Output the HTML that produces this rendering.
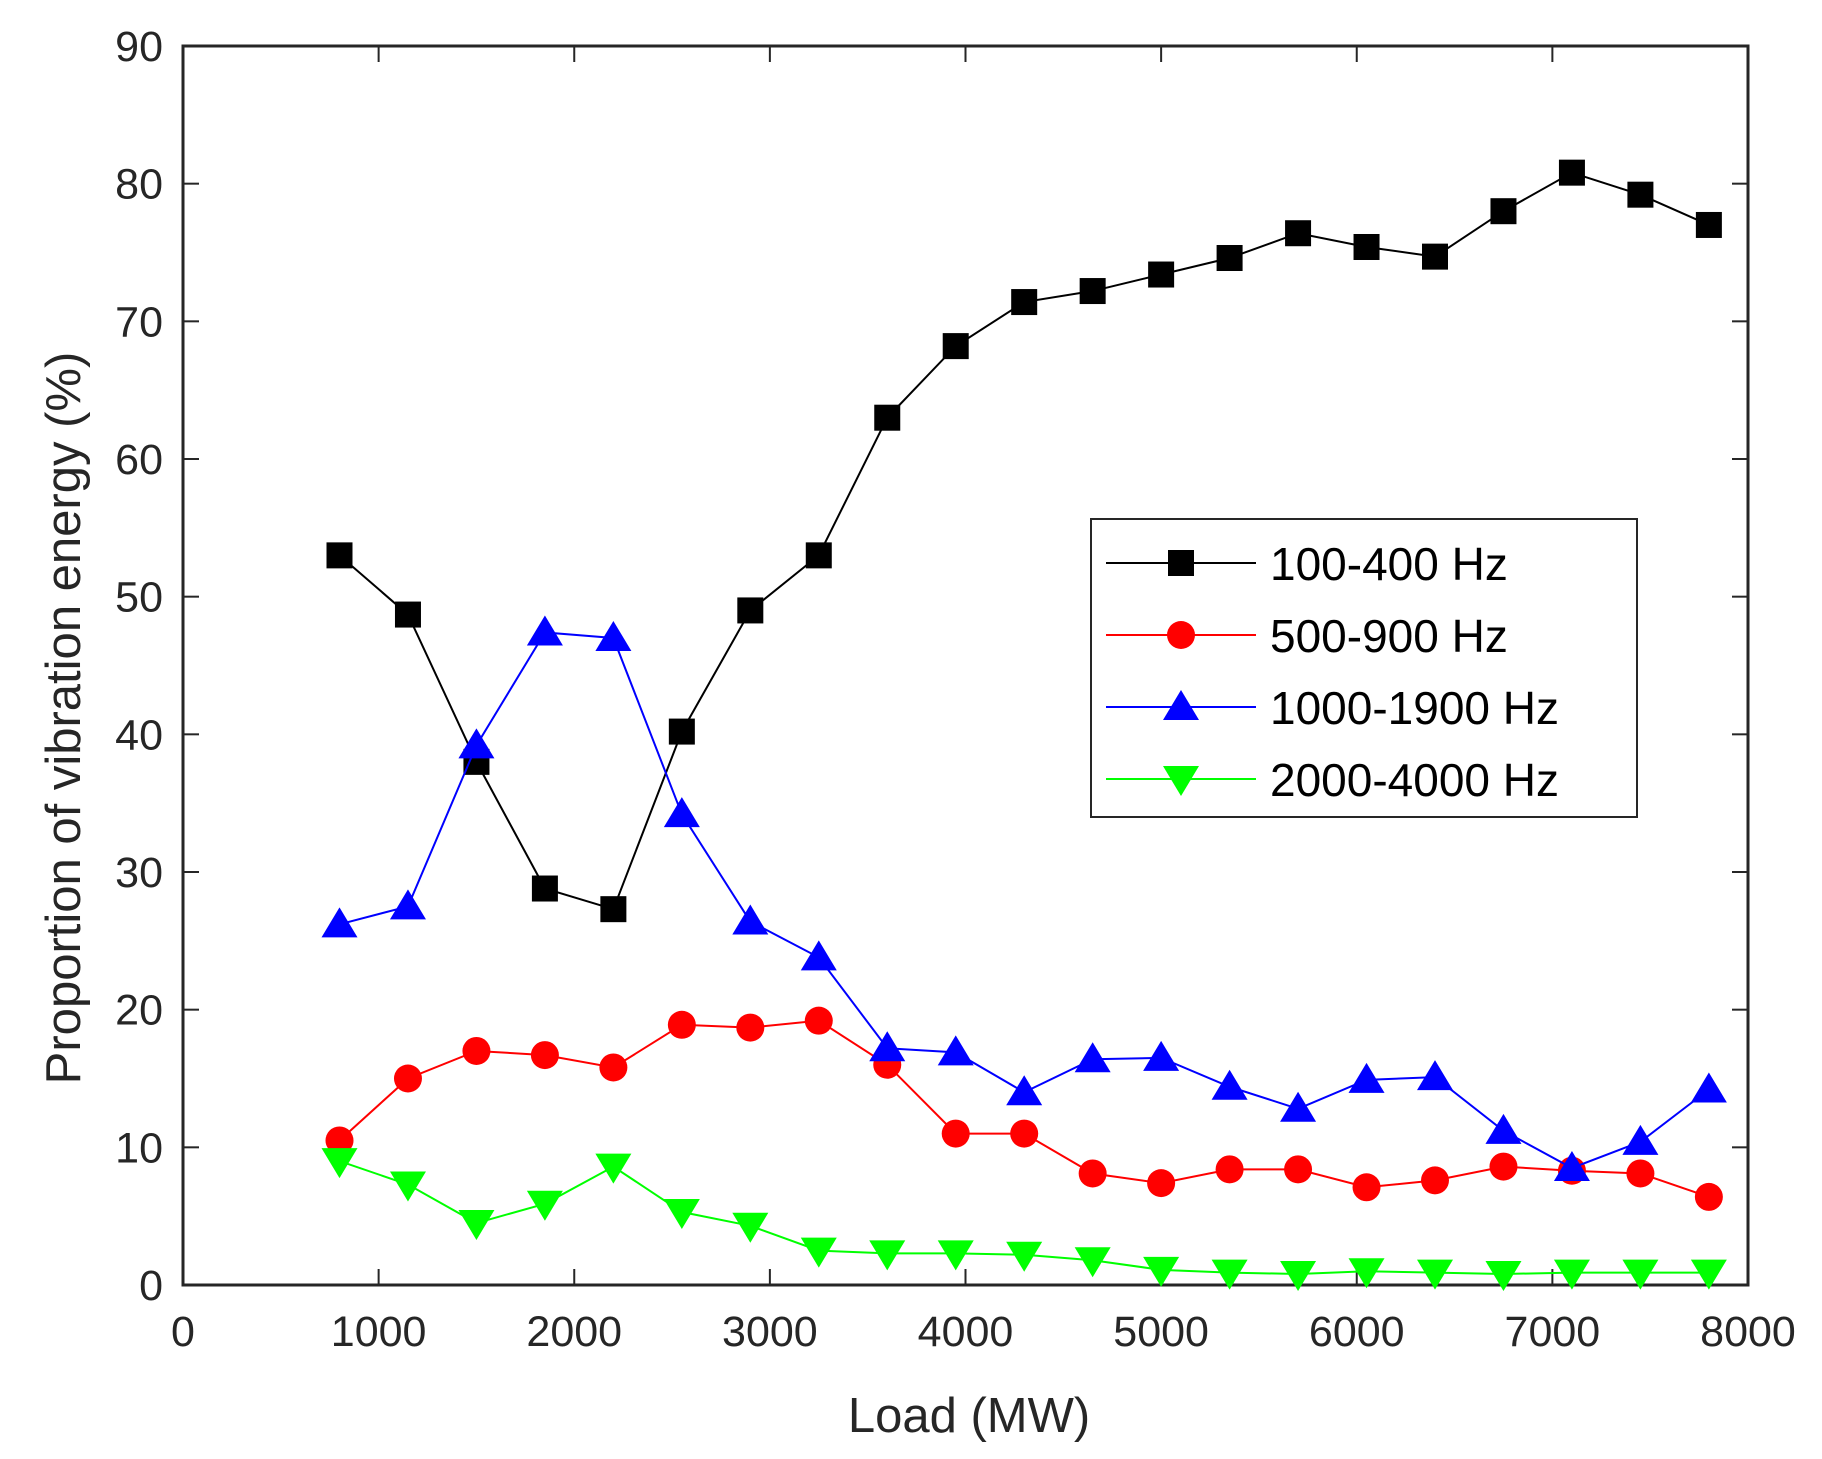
<!DOCTYPE html>
<html><head><meta charset="utf-8"><style>
html,body{margin:0;padding:0;background:#fff}
svg{display:block;font-family:"Liberation Sans",Arial,sans-serif}
</style></head><body>
<svg id="chart" width="1822" height="1459" viewBox="0 0 1822 1459"></svg>
<script>
const loads=[800,1150,1500,1850,2200,2550,2900,3250,3600,3950,4300,4650,5000,5350,5700,6050,6400,6750,7100,7450,7800];
const s100=[53,48.7,38,28.8,27.3,40.2,49,53,63,68.2,71.4,72.2,73.4,74.6,76.4,75.4,74.7,78,80.8,79.2,77];
const s500=[10.5,15,17,16.7,15.8,18.9,18.7,19.2,16,11,11,8.1,7.4,8.4,8.4,7.1,7.6,8.6,8.3,8.1,6.4];
const s1000=[26.2,27.5,39.2,47.4,47,34.2,26.4,23.8,17.2,16.9,14,16.4,16.5,14.4,12.8,14.9,15.1,11.2,8.5,10.4,14.2];
const s2000=[9,7.3,4.5,5.9,8.6,5.3,4.3,2.5,2.3,2.3,2.2,1.8,1.1,0.9,0.8,1.0,0.9,0.8,0.9,0.9,0.9];
const xTicks=[0,1000,2000,3000,4000,5000,6000,7000,8000];
const yTicks=[0,10,20,30,40,50,60,70,80,90];
const seriesNames=["100-400 Hz","500-900 Hz","1000-1900 Hz","2000-4000 Hz"];

const L=183,R=1748,T=46,B=1285;
const xs=v=>L+v/8000*(R-L);
const ys=v=>B-v/90*(B-T);
const svg=document.getElementById('chart');
const NS='http://www.w3.org/2000/svg';
function mk(tag,attrs,parent){const e=document.createElementNS(NS,tag);for(const k in attrs)e.setAttribute(k,attrs[k]);(parent||svg).appendChild(e);return e;}

const box=mk('rect',{x:L,y:T,width:R-L,height:B-T,fill:'none',stroke:'#262626','stroke-width':3});



xTicks.forEach(t=>{
  const x=xs(t);
  mk('line',{x1:x,y1:B,x2:x,y2:B-16,stroke:'#262626','stroke-width':2});
  mk('line',{x1:x,y1:T,x2:x,y2:T+16,stroke:'#262626','stroke-width':2});
  const tx=mk('text',{x:x,y:B+61,'text-anchor':'middle','font-size':43,fill:'#262626'});
  tx.textContent=t;
  
  
});
yTicks.forEach(t=>{
  const y=ys(t);
  mk('line',{x1:L,y1:y,x2:L+16,y2:y,stroke:'#262626','stroke-width':2});
  mk('line',{x1:R,y1:y,x2:R-16,y2:y,stroke:'#262626','stroke-width':2});
  const tx=mk('text',{x:L-20,y:y+15,'text-anchor':'end','font-size':43,fill:'#262626'});
  tx.textContent=t;
  
  
});
const xl=mk('text',{x:969,y:1432,'text-anchor':'middle','font-size':49,fill:'#262626'});
xl.textContent='Load (MW)';


const yl=mk('text',{x:0,y:0,'text-anchor':'middle','font-size':49,fill:'#262626',transform:'translate(80,718) rotate(-90)'});
yl.textContent='Proportion of vibration energy (%)';



function marker(kind,x,y,color,g){
  if(kind==='sq') return mk('rect',{x:x-13,y:y-13,width:26,height:26,fill:color},g);
  if(kind==='ci') return mk('circle',{cx:x,cy:y,r:14,fill:color},g);
  if(kind==='up') return mk('polygon',{points:`${x},${y-17} ${x-18},${y+13} ${x+18},${y+13}`,fill:color},g);
  return mk('polygon',{points:`${x},${y+17} ${x-18},${y-13} ${x+18},${y-13}`,fill:color},g);
}
const series=[[s100,'#000','sq'],[s500,'#ff0000','ci'],[s1000,'#0000ff','up'],[s2000,'#00ff00','dn']];
series.forEach((s,i)=>{
  const g=mk('g',{});
  
  
  mk('polyline',{points:loads.map((l,j)=>xs(l)+','+ys(s[0][j])).join(' '),fill:'none',stroke:s[1],'stroke-width':2},g);
  loads.forEach((l,j)=>{
    const m=marker(s[2],xs(l),ys(s[0][j]),s[1],g);
    
    
  });
});

const lg=mk('g',{});


mk('rect',{x:1091,y:519,width:546,height:298,fill:'#fff',stroke:'#262626','stroke-width':2},lg);
series.forEach((s,i)=>{
  const y=563+i*72;
  const e=mk('g',{},lg);
  
  
  mk('line',{x1:1106,y1:y,x2:1256,y2:y,stroke:s[1],'stroke-width':2},e);
  marker(s[2],1181,y,s[1],e);
  const t=mk('text',{x:1270,y:y+17,'font-size':46,fill:'#000'},e);
  t.textContent=seriesNames[i];
});
</script>
</body></html>
